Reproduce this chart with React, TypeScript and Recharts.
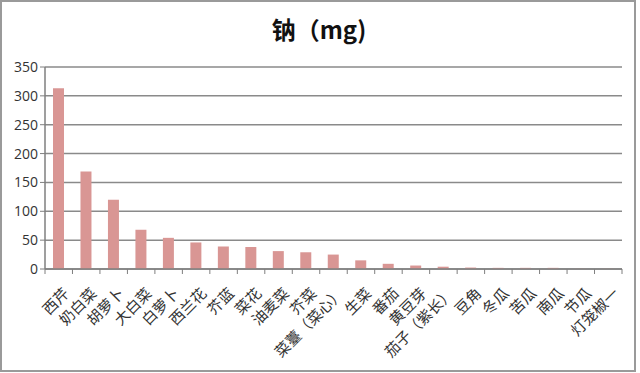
import { BarChart, Bar, XAxis, YAxis, CartesianGrid } from "recharts";

const categories = [
  "西芹",
  "奶白菜",
  "胡萝卜",
  "大白菜",
  "白萝卜",
  "西兰花",
  "芥蓝",
  "菜花",
  "油麦菜",
  "芥菜",
  "菜薹（菜心）",
  "生菜",
  "番茄",
  "黄豆芽",
  "茄子（紫长）",
  "豆角",
  "冬瓜",
  "苦瓜",
  "南瓜",
  "节瓜",
  "灯笼椒一",
];

const sodium = [
  313, 169, 120, 68, 54, 46, 39, 38, 31, 29, 25, 15, 9, 6, 4, 2.5, 2, 2, 2, 0.5,
  0.5,
];

const yTicks = [0, 50, 100, 150, 200, 250, 300, 350];

const data = categories.map((name, i) => ({ name, value: sodium[i] }));

const PLOT_W = 577;
const HALF_BAND = PLOT_W / categories.length / 2;

const CategoryTick = (props: any) => {
  const { x, y, payload, index } = props;
  const last = index === categories.length - 1;
  return (
    <g>
      <line x1={x - HALF_BAND} y1={y - 8} x2={x - HALF_BAND} y2={y - 3} stroke="#7f7f7f" />
      {last && (
        <line x1={x + HALF_BAND} y1={y - 8} x2={x + HALF_BAND} y2={y - 3} stroke="#7f7f7f" />
      )}
      <g transform={`translate(${x + 3},${y + 9})`}>
        <text
          textAnchor="end"
          transform="rotate(-45)"
          dy="0.8em"
          fontSize={15}
          fill="#333"
          fontFamily="'Noto Sans CJK SC', sans-serif"
        >
          {payload.value}
        </text>
      </g>
    </g>
  );
};

export default function App() {
  return (
    <div style={{ position: "absolute", left: 0, top: 0, width: 640, height: 373, background: "#fff" }}>
      <div
        style={{
          position: "absolute",
          left: 0,
          top: 0,
          width: 632,
          height: 368,
          border: "2px solid #9a9a9a",
        }}
      />
      <div
        style={{
          position: "absolute",
          left: 0,
          top: 14,
          width: 638,
          textAlign: "center",
          fontSize: 24,
          fontWeight: "bold",
          color: "#111",
          fontFamily: "'Noto Sans CJK SC', 'Open Sans', sans-serif",
          lineHeight: "30px",
        }}
      >
        钠（mg)
      </div>
      <BarChart
        width={640}
        height={373}
        data={data}
        margin={{ top: 67, right: 18, left: 0, bottom: 4 }}
        barSize={11}
      >
        <CartesianGrid vertical={false} stroke="#8a8a8a" strokeWidth={1.5} />
        <XAxis
          dataKey="name"
          interval={0}
          height={100}
          tickLine={false}
          axisLine={{ stroke: "#7f7f7f", strokeWidth: 1.5 }}
          tick={<CategoryTick />}
        />
        <YAxis
          width={45}
          domain={[0, 350]}
          ticks={yTicks}
          interval={0}
          tickSize={5}
          tickLine={{ stroke: "#7f7f7f" }}
          axisLine={{ stroke: "#7f7f7f", strokeWidth: 1.5 }}
          tick={{ fontSize: 14, fill: "#333", fontFamily: "'Open Sans', sans-serif" }}
        />
        <Bar dataKey="value" fill="#d99694" isAnimationActive={false} />
      </BarChart>
    </div>
  );
}
